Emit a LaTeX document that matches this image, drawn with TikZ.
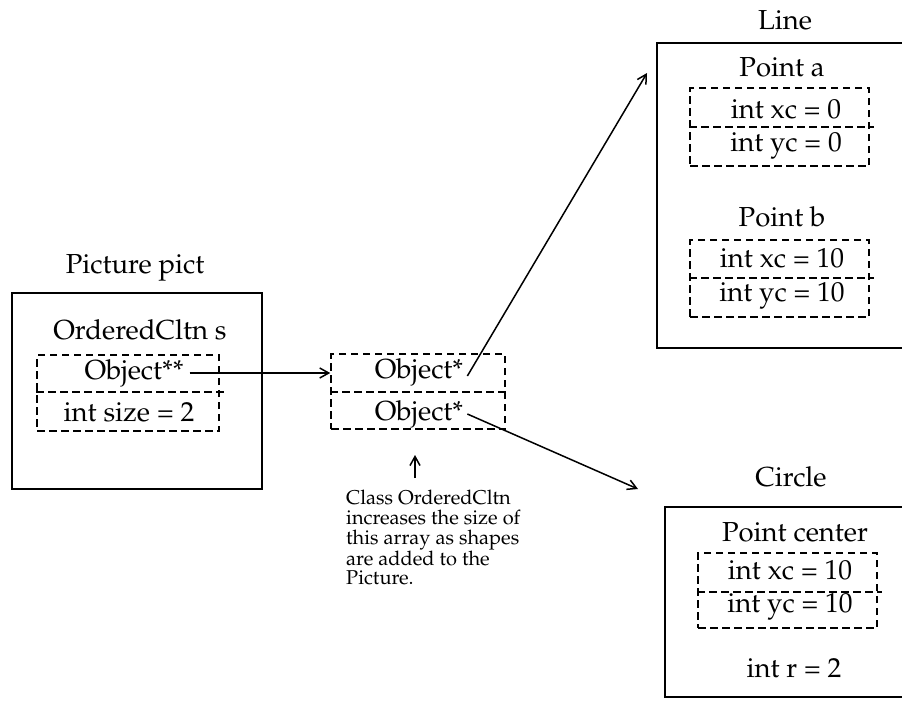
\documentclass[tikz,border=0pt]{standalone}
\usepackage[T1]{fontenc}
\usepackage{mathpazo}
\usetikzlibrary{arrows.meta}
\tikzset{
  box/.style={draw, line width=1.6pt, rectangle, inner sep=0pt},
  openbox/.style={line width=1.6pt},
  dbox/.style={draw, line width=1.5pt, dash pattern=on 7.5pt off 4.5pt, rectangle, inner sep=0pt},
  ddiv/.style={line width=1.5pt, dash pattern=on 7.5pt off 4.5pt},
  lbl/.style={inner sep=1pt, font=\fontsize{27.5}{32}\selectfont},
  arr/.style={line width=1.5pt, -{Straight Barb[length=9pt,width=10pt,line width=1.5pt]}},
  note/.style={inner sep=0pt, align=left, anchor=north west, font=\fontsize{20}{19.7}\selectfont}
}
\begin{document}
\begin{tikzpicture}[x=1pt,y=-1pt]
\useasboundingbox (0,0) rectangle (902,710);
% left: Picture pict
\node[lbl] (pictT) at (135,268) {Picture pict};
\node[box, minimum width=250pt, minimum height=196pt] (pict) at (137,391) {};
\node[lbl] (oc) at (140,330) {OrderedCltn s};
\node[dbox, minimum width=182pt, minimum height=76pt] (ocbox) at (128,393) {};
\draw[ddiv] (ocbox.west |- 0,392) -- ([xshift=4pt]ocbox.east |- 0,392);
\node[lbl] (objss) at (134,373) {Object**};
\node[lbl] (size) at (129,412) {int size = 2};
% middle array
\node[dbox, minimum width=174pt, minimum height=75pt] (arrbox) at (418,391.5) {};
\draw[ddiv] (arrbox.west |- 0,392) -- ([xshift=4pt]arrbox.east |- 0,392);
\node[lbl] (obj1) at (419,372) {Object*};
\node[lbl] (obj2) at (419,414) {Object*};
% note
\node[note] (nt) at (346,490) {Class OrderedCltn\\increases the size of\\this array as shapes\\are added to the\\Picture.};
\coordinate (ua) at (415,455);
\coordinate (ub) at (415,478);
% Line (box runs off the right edge)
\node[lbl] (lineT) at (785,20) {Line};
\draw[openbox] (960,43) -- (657,43) -- (657,348) -- (960,348);
\node[lbl] (pa) at (782,67) {Point a};
\node[dbox, minimum width=179pt, minimum height=78pt] (pabox) at (779.5,127) {};
\draw[ddiv] (pabox.west |- 0,127) -- ([xshift=4pt]pabox.east |- 0,127);
\node[lbl] (paxc) at (786,109) {int xc = 0};
\node[lbl] (payc) at (786,146) {int yc = 0};
\node[lbl] (pb) at (782,217) {Point b};
\node[dbox, minimum width=179pt, minimum height=77pt] (pbbox) at (779.5,278.5) {};
\draw[ddiv] (pbbox.west |- 0,278) -- ([xshift=4pt]pbbox.east |- 0,278);
\node[lbl] (pbxc) at (782,258) {int xc = 10};
\node[lbl] (pbyc) at (782,296) {int yc = 10};
% Circle (box runs off the right edge)
\node[lbl] (circT) at (791,477) {Circle};
\draw[openbox] (960,507) -- (665,507) -- (665,697) -- (960,697);
\node[lbl] (pc) at (795,532) {Point center};
\node[dbox, minimum width=179pt, minimum height=75pt] (pcbox) at (787.5,590.5) {};
\draw[ddiv] (pcbox.west |- 0,592) -- ([xshift=4pt]pcbox.east |- 0,592);
\node[lbl] (pcxc) at (790,570) {int xc = 10};
\node[lbl] (pcyc) at (790,607) {int yc = 10};
\node[lbl] (rr) at (794,668) {int r = 2};
% connectors
\coordinate (lt) at (647,73);
\coordinate (ct) at (638,489);
\draw[arr] ([xshift=5pt]objss.east) -- (objss.east -| arrbox.west);
\draw[arr] ([xshift=3pt,yshift=-4pt]obj1.east) -- (lt);
\draw[arr] ([xshift=3pt]obj2.east) -- (ct);
\draw[arr] (ub) -- (ua);
\end{tikzpicture}
\end{document}
